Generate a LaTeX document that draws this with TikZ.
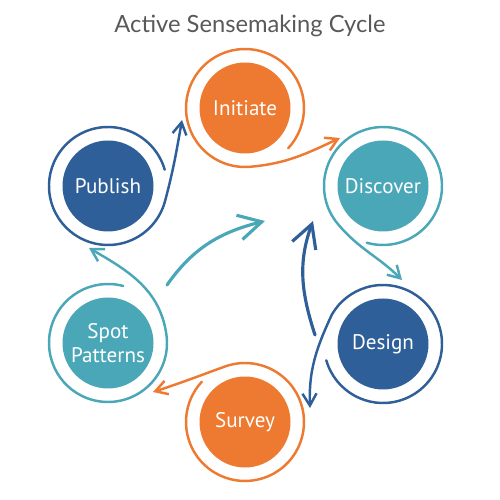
\documentclass[tikz,border=0pt]{standalone}
\usepackage{fontspec}
\setmainfont{PT Sans}
\newfontfamily\titlefont{Lato}
\usetikzlibrary{arrows.meta}

\definecolor{orng}{HTML}{ED7A30}
\definecolor{tealc}{HTML}{4AA7B7}
\definecolor{dblue}{HTML}{2E5F98}
\definecolor{txtgray}{HTML}{595959}

\tikzset{
  stage/.style={circle, fill=#1, text=white, minimum size=18.2mm, inner sep=0pt,
    align=center, font=\fontsize{12}{14}\selectfont},
  ring/.style={draw=#1, line width=1.4pt, line cap=round,
    -{Straight Barb[length=2.4mm,width=2.8mm]}},
  sweep/.style={draw=#1, line width=1.8pt, line cap=round,
    -{Straight Barb[length=4.6mm,width=5mm]}},
}

\begin{document}
\begin{tikzpicture}[x=0.2mm,y=0.2mm]
  \useasboundingbox (0,0) rectangle (500,500);
  \node [font=\titlefont\fontsize{13.5}{16}\selectfont, text=txtgray, anchor=base] (title) at (250,467) {Active Sensemaking Cycle};

  \node [stage=orng]  (n1) at (245,392) {Initiate};
  \node [stage=tealc] (n2) at (383,314) {Discover};
  \node [stage=dblue] (n3) at (383,156) {Design};
  \node [stage=orng]  (n4) at (245,78)  {Survey};
  \node [stage=tealc] (n5) at (108,157) {Spot\\Patterns};
  \node [stage=dblue] (n6) at (108,314) {Publish};

  \coordinate (t1) at (340,362);
  \coordinate (t2) at (402,220);
  \coordinate (t3) at (310,92);
  \coordinate (t4) at (153,108);
  \coordinate (t5) at (89,252);
  \coordinate (t6) at (182,380);
  \coordinate (m1) at (315,165);
  \coordinate (m2) at (313,279);
  \coordinate (m3) at (167,215);
  \coordinate (m4) at (265,279);

  % open rings running on to the next stage
  \draw [ring=orng]  ([shift={(-43:59)}]n1.center) arc [start angle=-43, end angle=275, radius=59] to [out=5, in=205] (t1);
  \draw [ring=tealc] ([shift={(-106:59)}]n2.center) arc [start angle=-106, end angle=220, radius=59] to [out=310, in=135] (t2);
  \draw [ring=dblue] ([shift={(196:59)}]n3.center) arc [start angle=196, end angle=510, radius=59] to [out=245, in=92] (t3);
  \draw [ring=orng]  ([shift={(137:59)}]n4.center) arc [start angle=137, end angle=470, radius=59] to [out=200, in=18] (t4);
  \draw [ring=tealc] ([shift={(75:59)}]n5.center) arc [start angle=75, end angle=368, radius=59] to [out=98, in=-30] (t5);
  \draw [ring=dblue] ([shift={(16:59)}]n6.center) arc [start angle=16, end angle=345, radius=59] to [out=75, in=-100] (t6);

  % sweeps in the middle
  \draw [sweep=dblue] (m1) to [out=108, in=250] (m2);
  \draw [sweep=tealc] (m3) to [out=55, in=194] (m4);
\end{tikzpicture}
\end{document}
